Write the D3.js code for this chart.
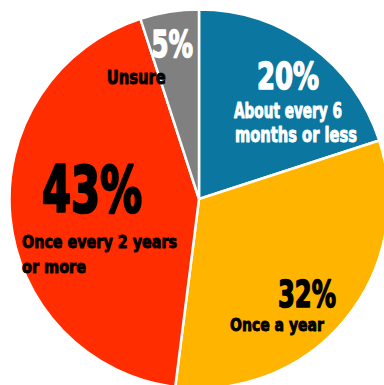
<!DOCTYPE html>
<html>
<head>
<meta charset="utf-8">
<script src="https://cdn.jsdelivr.net/npm/d3@7"></script>
<style>
  html, body { margin: 0; padding: 0; background: #fff; overflow: hidden; }
  svg { display: block; }
  text { font-family: "Liberation Sans Narrow", "DejaVu Sans Condensed", "Liberation Sans", sans-serif; font-weight: bold; }
</style>
</head>
<body>
<svg id="chart" width="384" height="385"></svg>
<script>
// Survey answers, in clockwise order from 12 o'clock
const categories = ["About every 6 months or less", "Once a year", "Once every 2 years or more", "Unsure"];
const values = [20, 32, 43, 5];
const colors = ["#0b77a0", "#ffb400", "#ff2d00", "#808080"];
const valueLabels = ["20%", "32%", "43%", "5%"];
const categoryLines = [["About every 6", "months or less"], ["Once a year"], ["Once every 2 years", "or more"], ["Unsure"]];

// Label layout per slice (relative to the pie centre): value text then category lines
const layout = [
  { fill: "#fff", value: { x: 58, y: -110, size: 37, w: 62, sw: 1.5 },
    lines: [{ x: 35, y: -81, size: 20.5, w: 108, sw: 0.9 }, { x: 36, y: -57, size: 20.5, w: 122, sw: 0.9 }] },
  { fill: "#000", value: { x: 79, y: 107.5, size: 38, w: 58, sw: 1.5 },
    lines: [{ x: 31, y: 132, size: 18.5, w: 94, sw: 0.9 }] },
  { fill: "#000", value: { x: -157, y: 13, size: 64, w: 100, sw: 2.5 },
    lines: [{ x: -177, y: 48.7, size: 18.5, w: 155, sw: 0.9 }, { x: -177, y: 74, size: 18.5, w: 64, sw: 0.9 }] },
  { fill: "#fff", value: { x: -47.5, y: -142.3, size: 37, w: 41.5, sw: 1.5 }, valueFill: "#fff",
    lines: [{ x: -92.3, y: -115, size: 20, w: 59, sw: 0.9 }], lineFill: "#000" }
];

const cx = 199, cy = 199, radius = 189.5;
const svg = d3.select("#chart");
const g = svg.append("g").attr("transform", `translate(${cx},${cy})`);

const pie = d3.pie().sort(null).value(d => d.value);
const arc = d3.arc().innerRadius(0).outerRadius(radius);

const data = categories.map((c, i) => ({ category: c, value: values[i], color: colors[i], i }));

g.selectAll("path.slice")
  .data(pie(data))
  .join("path")
  .attr("class", "slice")
  .attr("d", arc)
  .attr("fill", d => d.data.color)
  .attr("stroke", "#fff")
  .attr("stroke-width", 2.5)
  .attr("stroke-linejoin", "round");

function drawText(parent, str, spec, fill) {
  parent.append("text")
    .attr("x", spec.x)
    .attr("y", spec.y)
    .attr("font-size", spec.size)
    .attr("textLength", spec.w)
    .attr("lengthAdjust", "spacingAndGlyphs")
    .attr("fill", fill)
    .attr("stroke", fill)
    .attr("stroke-width", spec.sw)
    .attr("stroke-linejoin", "round")
    .text(str);
}

data.forEach((d, i) => {
  const L = layout[i];
  const lg = g.append("g").attr("class", "label");
  drawText(lg, valueLabels[i], L.value, L.valueFill || L.fill);
  categoryLines[i].forEach((line, j) => drawText(lg, line, L.lines[j], L.lineFill || L.fill));
});
</script>
</body>
</html>
